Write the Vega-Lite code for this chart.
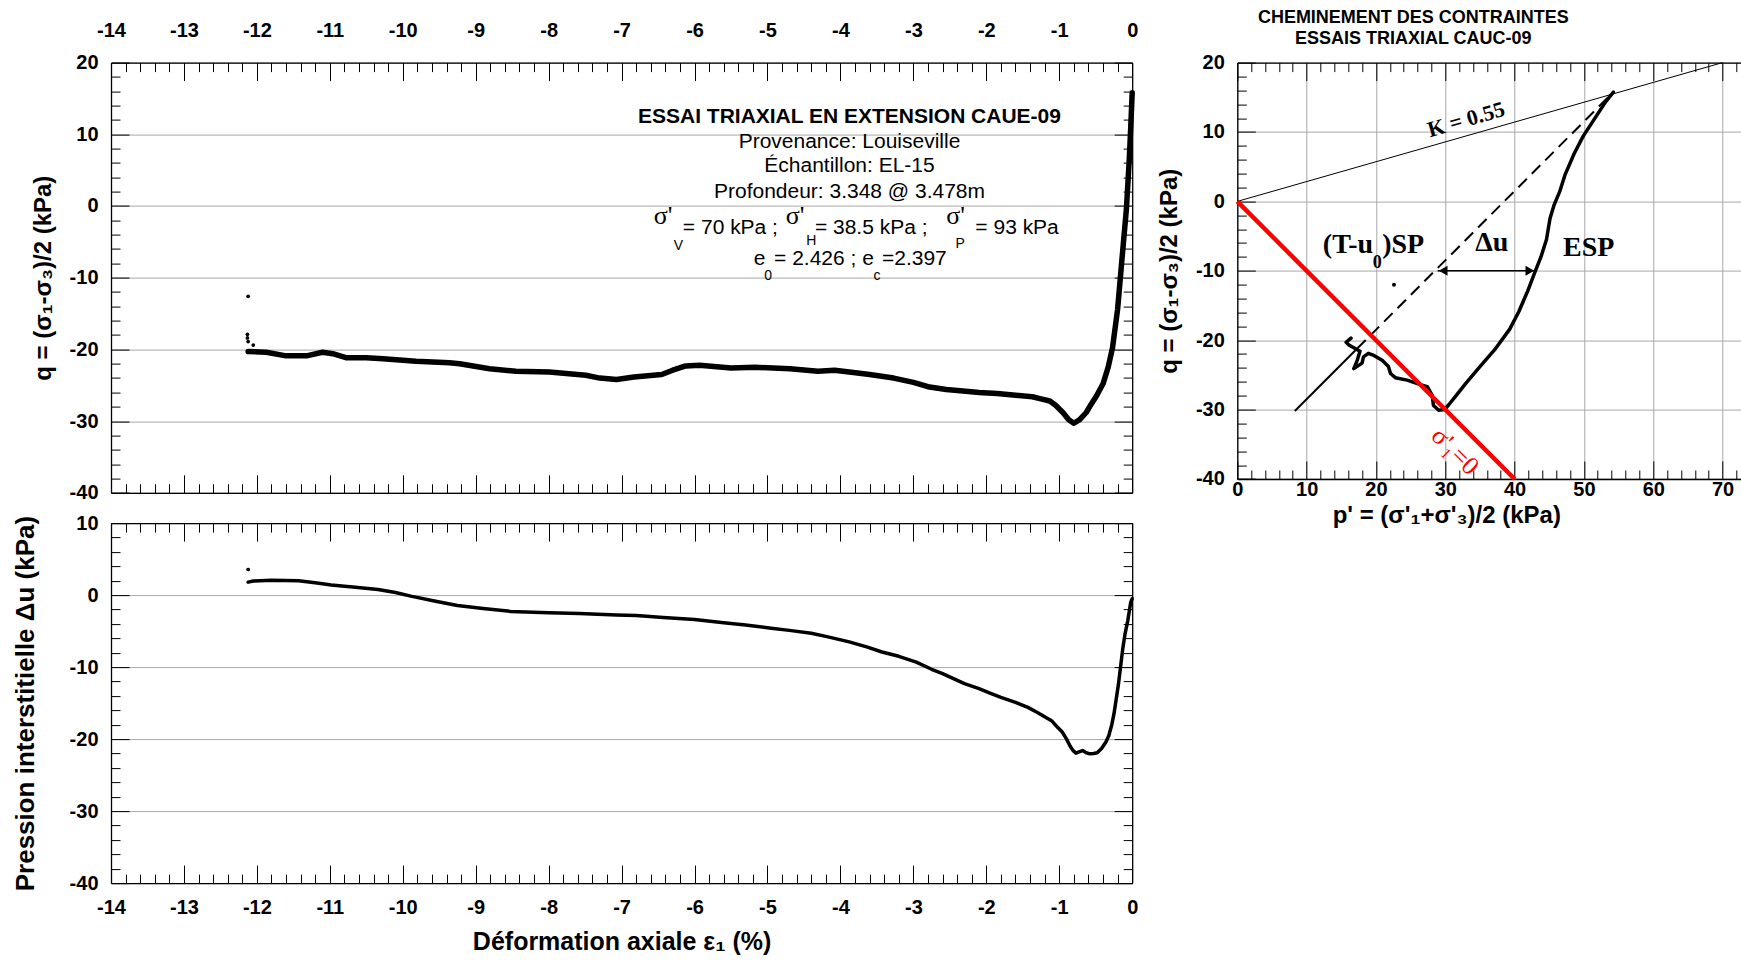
{
  "$schema": "https://vega.github.io/schema/vega-lite/v6.json",
  "background": "white",
  "padding": {"left": 12, "top": 8.6, "right": 0, "bottom": 0},
  "columns": 2,
  "align": "each",
  "bounds": "flush",
  "spacing": {"row": 29.5, "column": 104.3},
  "config": {
    "view": {"stroke": null},
    "axis": {
      "labelFont": "Liberation Sans", "labelFontSize": 20, "labelFontWeight": "bold", "labelColor": "black",
      "titleFont": "Liberation Sans", "titleFontWeight": "bold", "titleColor": "black",
      "tickColor": "black", "tickWidth": 1, "domainColor": "black", "domainWidth": 1.3,
      "gridColor": "#a8a8a8", "gridWidth": 1, "gridOpacity": 1,
      "labelFlush": false, "labelOverlap": false, "labelBound": false
    }
  },
  "datasets": {
    "tlq": [
      {"e": 0, "q": 15.8}, {"e": -0.02, "q": 11}, {"e": -0.04, "q": 6.5}, {"e": -0.08, "q": -0.5},
      {"e": -0.14, "q": -7.4}, {"e": -0.2, "q": -14.4}, {"e": -0.27, "q": -19.8}, {"e": -0.33, "q": -22.5},
      {"e": -0.4, "q": -24.8}, {"e": -0.49, "q": -26.5}, {"e": -0.56, "q": -27.6}, {"e": -0.63, "q": -28.8},
      {"e": -0.72, "q": -29.8}, {"e": -0.8, "q": -30.3}, {"e": -0.87, "q": -29.8}, {"e": -0.95, "q": -28.8},
      {"e": -1.05, "q": -27.8}, {"e": -1.13, "q": -27.2}, {"e": -1.25, "q": -26.9}, {"e": -1.37, "q": -26.6},
      {"e": -1.6, "q": -26.4}, {"e": -1.85, "q": -26.15}, {"e": -2.1, "q": -26.0}, {"e": -2.32, "q": -25.8},
      {"e": -2.55, "q": -25.6}, {"e": -2.8, "q": -25.2}, {"e": -3.0, "q": -24.6}, {"e": -3.27, "q": -24.0},
      {"e": -3.6, "q": -23.5}, {"e": -3.85, "q": -23.2}, {"e": -4.08, "q": -22.9}, {"e": -4.31, "q": -23.05},
      {"e": -4.69, "q": -22.7}, {"e": -5.17, "q": -22.5}, {"e": -5.5, "q": -22.6}, {"e": -5.93, "q": -22.2},
      {"e": -6.12, "q": -22.3}, {"e": -6.3, "q": -22.9}, {"e": -6.45, "q": -23.5}, {"e": -6.83, "q": -23.85},
      {"e": -7.07, "q": -24.2}, {"e": -7.3, "q": -24.0}, {"e": -7.49, "q": -23.6}, {"e": -7.99, "q": -23.15},
      {"e": -8.45, "q": -23.05}, {"e": -8.81, "q": -22.7}, {"e": -9.22, "q": -22.0}, {"e": -9.36, "q": -21.85},
      {"e": -9.82, "q": -21.65}, {"e": -10.27, "q": -21.3}, {"e": -10.5, "q": -21.15}, {"e": -10.78, "q": -21.15},
      {"e": -10.96, "q": -20.6}, {"e": -11.1, "q": -20.4}, {"e": -11.32, "q": -20.9}, {"e": -11.6, "q": -20.9},
      {"e": -11.87, "q": -20.4}, {"e": -12.12, "q": -20.3}
    ],
    "tlpts": [
      {"e": -12.12, "q": -12.6}, {"e": -12.13, "q": -17.9}, {"e": -12.13, "q": -18.4},
      {"e": -12.12, "q": -18.9}, {"e": -12.05, "q": -19.4}
    ],
    "tlhead": [{"e": -3.876, "q": 12.47, "t": "ESSAI TRIAXIAL EN EXTENSION CAUE-09"}],
    "tllines": [
      {"e": -3.876, "q": 8.93, "t": "Provenance: Louiseville"},
      {"e": -3.876, "q": 5.58, "t": "Échantillon: EL-15"},
      {"e": -3.876, "q": 1.95, "t": "Profondeur: 3.348 @ 3.478m"}
    ],
    "tleq": [
      {"e": -6.16, "q": -3.11, "t": "= 70 kPa ;"},
      {"e": -4.35, "q": -3.11, "t": "= 38.5 kPa ;"},
      {"e": -2.15, "q": -3.11, "t": "= 93 kPa"},
      {"e": -5.19, "q": -7.34, "t": "e"},
      {"e": -4.91, "q": -7.34, "t": "= 2.426 ; e"},
      {"e": -3.43, "q": -7.34, "t": "=2.397"}
    ],
    "tlsig": [
      {"e": -6.56, "q": -1.45, "t": "σ'"},
      {"e": -4.75, "q": -1.45, "t": "σ'"},
      {"e": -2.55, "q": -1.45, "t": "σ'"}
    ],
    "tlsub": [
      {"e": -6.22, "q": -5.6, "t": "V"},
      {"e": -4.40, "q": -4.9, "t": "H"},
      {"e": -2.36, "q": -5.3, "t": "P"},
      {"e": -4.99, "q": -9.76, "t": "0"},
      {"e": -3.50, "q": -9.76, "t": "c"}
    ],
    "blu": [
      {"e": 0, "u": -0.5}, {"e": -0.02, "u": -1.0}, {"e": -0.06, "u": -3.5}, {"e": -0.1, "u": -5.5},
      {"e": -0.13, "u": -7.5}, {"e": -0.16, "u": -10.0}, {"e": -0.19, "u": -12.5}, {"e": -0.22, "u": -14.5},
      {"e": -0.25, "u": -16.5}, {"e": -0.28, "u": -18.0}, {"e": -0.32, "u": -19.5}, {"e": -0.36, "u": -20.4},
      {"e": -0.42, "u": -21.3}, {"e": -0.48, "u": -21.9}, {"e": -0.53, "u": -22.0}, {"e": -0.58, "u": -22.05},
      {"e": -0.63, "u": -21.9}, {"e": -0.68, "u": -21.6}, {"e": -0.72, "u": -21.75}, {"e": -0.77, "u": -21.95},
      {"e": -0.81, "u": -21.6}, {"e": -0.85, "u": -21.0}, {"e": -0.9, "u": -20.0}, {"e": -0.96, "u": -19.0},
      {"e": -1.02, "u": -18.4}, {"e": -1.1, "u": -17.5}, {"e": -1.2, "u": -16.9}, {"e": -1.3, "u": -16.3},
      {"e": -1.43, "u": -15.6}, {"e": -1.6, "u": -14.9}, {"e": -1.8, "u": -14.2}, {"e": -1.95, "u": -13.6},
      {"e": -2.1, "u": -13.0}, {"e": -2.3, "u": -12.3}, {"e": -2.45, "u": -11.6}, {"e": -2.6, "u": -10.9},
      {"e": -2.75, "u": -10.3}, {"e": -2.96, "u": -9.3}, {"e": -3.2, "u": -8.5}, {"e": -3.43, "u": -7.9},
      {"e": -3.64, "u": -7.2}, {"e": -3.88, "u": -6.5}, {"e": -4.17, "u": -5.8}, {"e": -4.4, "u": -5.3},
      {"e": -4.7, "u": -4.9}, {"e": -4.95, "u": -4.6}, {"e": -5.3, "u": -4.15}, {"e": -5.6, "u": -3.85},
      {"e": -6.0, "u": -3.4}, {"e": -6.43, "u": -3.1}, {"e": -6.8, "u": -2.85}, {"e": -7.07, "u": -2.75},
      {"e": -7.58, "u": -2.56}, {"e": -8.0, "u": -2.45}, {"e": -8.52, "u": -2.27}, {"e": -8.9, "u": -1.85},
      {"e": -9.25, "u": -1.44}, {"e": -9.55, "u": -0.85}, {"e": -9.89, "u": -0.14}, {"e": -10.1, "u": 0.35},
      {"e": -10.34, "u": 0.78}, {"e": -10.65, "u": 1.1}, {"e": -10.98, "u": 1.4}, {"e": -11.2, "u": 1.7},
      {"e": -11.43, "u": 2.0}, {"e": -11.8, "u": 2.05}, {"e": -12.05, "u": 1.95}, {"e": -12.12, "u": 1.8}
    ],
    "blpts": [{"e": -12.12, "u": 3.56}],
    "esp": [
      {"i": 1, "p": 54.25, "q": 15.75}, {"i": 2, "p": 53.1, "q": 14.3}, {"i": 3, "p": 51.5, "q": 11.85},
      {"i": 4, "p": 49.9, "q": 9.4}, {"i": 5, "p": 48.6, "q": 6.9}, {"i": 6, "p": 47.3, "q": 3.9},
      {"i": 7, "p": 46.5, "q": 1.4}, {"i": 8, "p": 45.7, "q": -0.5}, {"i": 9, "p": 45.1, "q": -2.5},
      {"i": 10, "p": 44.6, "q": -5.5}, {"i": 11, "p": 43.8, "q": -8.0}, {"i": 12, "p": 43.0, "q": -10.0},
      {"i": 13, "p": 41.9, "q": -12.9}, {"i": 14, "p": 40.6, "q": -15.9}, {"i": 15, "p": 39.3, "q": -18.4},
      {"i": 16, "p": 37.1, "q": -21.4}, {"i": 17, "p": 35.0, "q": -23.8}, {"i": 18, "p": 32.9, "q": -26.3},
      {"i": 19, "p": 31.3, "q": -28.3}, {"i": 20, "p": 30.5, "q": -29.3}, {"i": 21, "p": 29.9, "q": -30.0},
      {"i": 22, "p": 29.05, "q": -30.1}, {"i": 23, "p": 28.3, "q": -29.4}, {"i": 24, "p": 28.1, "q": -27.9},
      {"i": 25, "p": 27.4, "q": -26.7}, {"i": 26, "p": 26.4, "q": -26.4}, {"i": 27, "p": 24.5, "q": -25.75},
      {"i": 28, "p": 22.8, "q": -25.4}, {"i": 29, "p": 22.1, "q": -24.8}, {"i": 30, "p": 21.8, "q": -23.8},
      {"i": 31, "p": 20.9, "q": -22.9}, {"i": 32, "p": 19.7, "q": -22.2}, {"i": 33, "p": 18.9, "q": -21.9},
      {"i": 34, "p": 18.2, "q": -22.4}, {"i": 35, "p": 18.0, "q": -23.3}, {"i": 36, "p": 16.8, "q": -24.1},
      {"i": 37, "p": 17.3, "q": -22.9}, {"i": 38, "p": 17.7, "q": -21.6}, {"i": 39, "p": 17.0, "q": -21.2},
      {"i": 40, "p": 16.1, "q": -20.7}, {"i": 41, "p": 15.7, "q": -20.3}, {"i": 42, "p": 16.4, "q": -19.7}
    ],
    "kline": [{"p": 0, "q": 0}, {"p": 70, "q": 20}],
    "redline": [{"p": 0, "q": 0}, {"p": 40, "q": -40}],
    "tspsolid": [{"p": 8.3, "q": -30.2}, {"p": 17.3, "q": -21.2}],
    "tspdash": [{"p": 17.3, "q": -21.2}, {"p": 54.25, "q": 15.75}],
    "arrow": [{"p": 28.9, "q": -10}, {"p": 43.0, "q": -10}],
    "headl": [{"p": 29.7, "q": -10}],
    "headr": [{"p": 42.2, "q": -10}],
    "stray": [{"p": 22.6, "q": -12.0}],
    "rk": [{"p": 33.0, "q": 11.8, "t": "K = 0.55"}],
    "rbr": [{"p": 19.6, "q": -7.4, "t": "(T-u"}],
    "rbl": [{"p": 20.9, "q": -7.4, "t": ")SP"}],
    "rbc": [{"p": 36.7, "q": -7.15, "t": "Δu"}, {"p": 50.7, "q": -7.9, "t": "ESP"}],
    "rsub": [{"p": 20.2, "q": -8.9, "t": "0"}],
    "rred": [{"p": 31.4, "q": -36.0, "t": "σ'₁=0"}]
  },
  "concat": [
    {
      "width": 1021.2,
      "height": 430.2,
      "resolve": {"axis": {"x": "independent", "y": "independent"}},
      "layer": [
        {
          "data": {"name": "tlq"},
          "mark": {"type": "line", "color": "black", "strokeWidth": 5.5, "strokeJoin": "round", "strokeCap": "round"},
          "encoding": {
            "x": {"field": "e", "type": "quantitative", "scale": {"domain": [-14, 0], "nice": false, "zero": false},
              "axis": {"orient": "top", "values": [-14,-13,-12,-11,-10,-9,-8,-7,-6,-5,-4,-3,-2,-1,0], "labelExpr": "replace(datum.label, '−', '-')", "ticks": false, "domain": false, "grid": false, "labelPadding": 22, "title": null}},
            "y": {"field": "q", "type": "quantitative", "scale": {"domain": [-40, 20], "nice": false, "zero": false},
              "axis": {"orient": "left", "values": [-40,-30,-20,-10,0,10,20], "labelExpr": "replace(datum.label, '−', '-')", "ticks": false, "domain": false, "grid": true, "labelPadding": 13, "title": "q = (σ₁-σ₃)/2 (kPa)", "titleFontSize": 24, "titlePadding": 13.5}}
          }
        },
        {
          "data": {"name": "tlpts"},
          "mark": {"type": "circle", "color": "black", "size": 14, "opacity": 1},
          "encoding": {
            "x": {"field": "e", "type": "quantitative",
              "axis": {"orient": "top", "values": [-14,-13.8,-13.6,-13.4,-13.2,-13,-12.8,-12.6,-12.4,-12.2,-12,-11.8,-11.6,-11.4,-11.2,-11,-10.8,-10.6,-10.4,-10.2,-10,-9.8,-9.6,-9.4,-9.2,-9,-8.8,-8.6,-8.4,-8.2,-8,-7.8,-7.6,-7.4,-7.2,-7,-6.8,-6.6,-6.4,-6.2,-6,-5.8,-5.6,-5.4,-5.2,-5,-4.8,-4.6,-4.4,-4.2,-4,-3.8,-3.6,-3.4,-3.2,-3,-2.8,-2.6,-2.4,-2.2,-2,-1.8,-1.6,-1.4,-1.2,-1,-0.8,-0.6,-0.4,-0.2,0], "labels": false, "ticks": true, "domain": true, "grid": false, "title": null,
                "tickSize": {"condition": {"test": "abs(datum.value % 1) < 0.001", "value": -18}, "value": -9}}},
            "y": {"field": "q", "type": "quantitative",
              "axis": {"orient": "left", "values": [-40,-38,-36,-34,-32,-30,-28,-26,-24,-22,-20,-18,-16,-14,-12,-10,-8,-6,-4,-2,0,2,4,6,8,10,12,14,16,18,20], "labels": false, "ticks": true, "domain": true, "grid": false, "title": null,
                "tickSize": {"condition": {"test": "datum.value % 10 === 0", "value": -18}, "value": -9}}}
          }
        },
        {
          "data": {"name": "tlhead"},
          "mark": {"type": "text", "font": "Liberation Sans", "fontSize": 21, "fontWeight": "bold", "align": "center", "baseline": "middle", "color": "black"},
          "encoding": {
            "x": {"field": "e", "type": "quantitative",
              "axis": {"orient": "bottom", "values": [-14,-13.8,-13.6,-13.4,-13.2,-13,-12.8,-12.6,-12.4,-12.2,-12,-11.8,-11.6,-11.4,-11.2,-11,-10.8,-10.6,-10.4,-10.2,-10,-9.8,-9.6,-9.4,-9.2,-9,-8.8,-8.6,-8.4,-8.2,-8,-7.8,-7.6,-7.4,-7.2,-7,-6.8,-6.6,-6.4,-6.2,-6,-5.8,-5.6,-5.4,-5.2,-5,-4.8,-4.6,-4.4,-4.2,-4,-3.8,-3.6,-3.4,-3.2,-3,-2.8,-2.6,-2.4,-2.2,-2,-1.8,-1.6,-1.4,-1.2,-1,-0.8,-0.6,-0.4,-0.2,0], "labels": false, "ticks": true, "domain": true, "grid": false, "title": null,
                "tickSize": {"condition": {"test": "abs(datum.value % 1) < 0.001", "value": -18}, "value": -9}}},
            "y": {"field": "q", "type": "quantitative",
              "axis": {"orient": "right", "values": [-40,-38,-36,-34,-32,-30,-28,-26,-24,-22,-20,-18,-16,-14,-12,-10,-8,-6,-4,-2,0,2,4,6,8,10,12,14,16,18,20], "labels": false, "ticks": true, "domain": true, "grid": false, "title": null,
                "tickSize": {"condition": {"test": "datum.value % 10 === 0", "value": -18}, "value": -9}}},
            "text": {"field": "t"}
          }
        },
        {
          "data": {"name": "tllines"},
          "mark": {"type": "text", "font": "Liberation Sans", "fontSize": 21, "align": "center", "baseline": "middle", "color": "black"},
          "encoding": {
            "x": {"field": "e", "type": "quantitative", "axis": null},
            "y": {"field": "q", "type": "quantitative", "axis": null},
            "text": {"field": "t"}
          }
        },
        {
          "data": {"name": "tleq"},
          "mark": {"type": "text", "font": "Liberation Sans", "fontSize": 21, "align": "left", "baseline": "middle", "color": "black"},
          "encoding": {
            "x": {"field": "e", "type": "quantitative", "axis": null},
            "y": {"field": "q", "type": "quantitative", "axis": null},
            "text": {"field": "t"}
          }
        },
        {
          "data": {"name": "tlsig"},
          "mark": {"type": "text", "font": "Liberation Serif", "fontSize": 26, "align": "left", "baseline": "middle", "color": "black"},
          "encoding": {
            "x": {"field": "e", "type": "quantitative", "axis": null},
            "y": {"field": "q", "type": "quantitative", "axis": null},
            "text": {"field": "t"}
          }
        },
        {
          "data": {"name": "tlsub"},
          "mark": {"type": "text", "font": "Liberation Sans", "fontSize": 14, "align": "center", "baseline": "middle", "color": "black"},
          "encoding": {
            "x": {"field": "e", "type": "quantitative", "axis": null},
            "y": {"field": "q", "type": "quantitative", "axis": null},
            "text": {"field": "t"}
          }
        }
      ]
    },
    {
      "width": 504,
      "height": 416.4,
      "title": {"text": ["CHEMINEMENT DES CONTRAINTES", "ESSAIS TRIAXIAL CAUC-09"], "font": "Liberation Sans", "fontSize": 18, "fontWeight": "bold", "color": "black", "anchor": "middle", "dx": -76, "offset": 4.5, "lineHeight": 21.5},
      "resolve": {"axis": {"x": "independent", "y": "independent"}},
      "layer": [
        {
          "data": {"name": "esp"},
          "mark": {"type": "line", "color": "black", "strokeWidth": 3.5, "strokeJoin": "round", "strokeCap": "round"},
          "encoding": {
            "x": {"field": "p", "type": "quantitative", "scale": {"domain": [0, 72.7], "nice": false, "zero": false},
              "axis": {"orient": "bottom", "values": [0,10,20,30,40,50,60,70], "ticks": false, "domain": false, "grid": true, "labelPadding": 1, "title": "p' = (σ'₁+σ'₃)/2 (kPa)", "titleFontSize": 24, "titlePadding": 4, "titleX": 209, "titleAlign": "center"}},
            "y": {"field": "q", "type": "quantitative", "scale": {"domain": [-40, 20], "nice": false, "zero": false},
              "axis": {"orient": "left", "values": [-40,-30,-20,-10,0,10,20], "labelExpr": "replace(datum.label, '−', '-')", "ticks": false, "domain": false, "grid": true, "labelPadding": 13, "title": "q = (σ₁-σ₃)/2 (kPa)", "titleFontSize": 24, "titlePadding": 14}},
            "order": {"field": "i", "type": "quantitative"}
          }
        },
        {
          "data": {"name": "kline"},
          "mark": {"type": "line", "color": "black", "strokeWidth": 1},
          "encoding": {
            "x": {"field": "p", "type": "quantitative",
              "axis": {"orient": "top", "values": [0,2,4,6,8,10,12,14,16,18,20,22,24,26,28,30,32,34,36,38,40,42,44,46,48,50,52,54,56,58,60,62,64,66,68,70,72], "labels": false, "ticks": true, "domain": true, "grid": false, "title": null,
                "tickSize": {"condition": {"test": "datum.value % 10 === 0", "value": -18}, "value": -9}}},
            "y": {"field": "q", "type": "quantitative",
              "axis": {"orient": "left", "values": [-40,-38,-36,-34,-32,-30,-28,-26,-24,-22,-20,-18,-16,-14,-12,-10,-8,-6,-4,-2,0,2,4,6,8,10,12,14,16,18,20], "labels": false, "ticks": true, "domain": true, "grid": false, "title": null,
                "tickSize": {"condition": {"test": "datum.value % 10 === 0", "value": -18}, "value": -9}}}
          }
        },
        {
          "data": {"name": "tspsolid"},
          "mark": {"type": "line", "color": "black", "strokeWidth": 2},
          "encoding": {
            "x": {"field": "p", "type": "quantitative",
              "axis": {"orient": "bottom", "values": [0,2,4,6,8,10,12,14,16,18,20,22,24,26,28,30,32,34,36,38,40,42,44,46,48,50,52,54,56,58,60,62,64,66,68,70,72], "labels": false, "ticks": true, "domain": true, "grid": false, "title": null,
                "tickSize": {"condition": {"test": "datum.value % 10 === 0", "value": -18}, "value": -9}}},
            "y": {"field": "q", "type": "quantitative", "axis": null}
          }
        },
        {
          "data": {"name": "tspdash"},
          "mark": {"type": "line", "color": "black", "strokeWidth": 2, "strokeDash": [12, 7]},
          "encoding": {
            "x": {"field": "p", "type": "quantitative", "axis": null},
            "y": {"field": "q", "type": "quantitative", "axis": null}
          }
        },
        {
          "data": {"name": "redline"},
          "mark": {"type": "line", "color": "#ff0000", "strokeWidth": 4.5},
          "encoding": {
            "x": {"field": "p", "type": "quantitative", "axis": null},
            "y": {"field": "q", "type": "quantitative", "axis": null}
          }
        },
        {
          "data": {"name": "arrow"},
          "mark": {"type": "line", "color": "black", "strokeWidth": 1.5},
          "encoding": {
            "x": {"field": "p", "type": "quantitative", "axis": null},
            "y": {"field": "q", "type": "quantitative", "axis": null}
          }
        },
        {
          "data": {"name": "headl"},
          "mark": {"type": "point", "shape": "triangle-left", "filled": true, "size": 100, "color": "black", "opacity": 1},
          "encoding": {
            "x": {"field": "p", "type": "quantitative", "axis": null},
            "y": {"field": "q", "type": "quantitative", "axis": null}
          }
        },
        {
          "data": {"name": "headr"},
          "mark": {"type": "point", "shape": "triangle-right", "filled": true, "size": 100, "color": "black", "opacity": 1},
          "encoding": {
            "x": {"field": "p", "type": "quantitative", "axis": null},
            "y": {"field": "q", "type": "quantitative", "axis": null}
          }
        },
        {
          "data": {"name": "stray"},
          "mark": {"type": "circle", "size": 16, "color": "black", "opacity": 1},
          "encoding": {
            "x": {"field": "p", "type": "quantitative", "axis": null},
            "y": {"field": "q", "type": "quantitative", "axis": null}
          }
        },
        {
          "data": {"name": "rk"},
          "mark": {"type": "text", "font": "Liberation Serif", "fontSize": 22, "fontWeight": "bold", "align": "center", "baseline": "middle", "angle": -16, "color": "black"},
          "encoding": {
            "x": {"field": "p", "type": "quantitative", "axis": null},
            "y": {"field": "q", "type": "quantitative", "axis": null},
            "text": {"field": "t"}
          }
        },
        {
          "data": {"name": "rbr"},
          "mark": {"type": "text", "font": "Liberation Serif", "fontSize": 28, "fontWeight": "bold", "align": "right", "baseline": "alphabetic", "color": "black"},
          "encoding": {
            "x": {"field": "p", "type": "quantitative", "axis": null},
            "y": {"field": "q", "type": "quantitative", "axis": null},
            "text": {"field": "t"}
          }
        },
        {
          "data": {"name": "rbl"},
          "mark": {"type": "text", "font": "Liberation Serif", "fontSize": 28, "fontWeight": "bold", "align": "left", "baseline": "alphabetic", "color": "black"},
          "encoding": {
            "x": {"field": "p", "type": "quantitative", "axis": null},
            "y": {"field": "q", "type": "quantitative", "axis": null},
            "text": {"field": "t"}
          }
        },
        {
          "data": {"name": "rbc"},
          "mark": {"type": "text", "font": "Liberation Serif", "fontSize": 28, "fontWeight": "bold", "align": "center", "baseline": "alphabetic", "color": "black"},
          "encoding": {
            "x": {"field": "p", "type": "quantitative", "axis": null},
            "y": {"field": "q", "type": "quantitative", "axis": null},
            "text": {"field": "t"}
          }
        },
        {
          "data": {"name": "rsub"},
          "mark": {"type": "text", "font": "Liberation Serif", "fontSize": 18, "fontWeight": "bold", "align": "center", "baseline": "middle", "color": "black"},
          "encoding": {
            "x": {"field": "p", "type": "quantitative", "axis": null},
            "y": {"field": "q", "type": "quantitative", "axis": null},
            "text": {"field": "t"}
          }
        },
        {
          "data": {"name": "rred"},
          "mark": {"type": "text", "font": "Liberation Serif", "fontSize": 26, "align": "center", "baseline": "middle", "angle": 45, "color": "#ff0000"},
          "encoding": {
            "x": {"field": "p", "type": "quantitative", "axis": null},
            "y": {"field": "q", "type": "quantitative", "axis": null},
            "text": {"field": "t"}
          }
        }
      ]
    },
    {
      "width": 1021.2,
      "height": 360,
      "resolve": {"axis": {"x": "independent", "y": "independent"}},
      "layer": [
        {
          "data": {"name": "blu"},
          "mark": {"type": "line", "color": "black", "strokeWidth": 3.5, "strokeJoin": "round", "strokeCap": "round"},
          "encoding": {
            "x": {"field": "e", "type": "quantitative", "scale": {"domain": [-14, 0], "nice": false, "zero": false},
              "axis": {"orient": "bottom", "values": [-14,-13,-12,-11,-10,-9,-8,-7,-6,-5,-4,-3,-2,-1,0], "labelExpr": "replace(datum.label, '−', '-')", "ticks": false, "domain": false, "grid": false, "labelPadding": 14, "title": "Déformation axiale ε₁ (%)", "titleFontSize": 25, "titlePadding": 12}},
            "y": {"field": "u", "type": "quantitative", "scale": {"domain": [-40, 10], "nice": false, "zero": false},
              "axis": {"orient": "left", "values": [-40,-30,-20,-10,0,10], "labelExpr": "replace(datum.label, '−', '-')", "ticks": false, "domain": false, "grid": true, "labelPadding": 13, "title": "Pression interstitielle Δu (kPa)", "titleFontSize": 26, "titlePadding": 31}}
          }
        },
        {
          "data": {"name": "blpts"},
          "mark": {"type": "circle", "color": "black", "size": 12, "opacity": 1},
          "encoding": {
            "x": {"field": "e", "type": "quantitative",
              "axis": {"orient": "top", "values": [-14,-13.8,-13.6,-13.4,-13.2,-13,-12.8,-12.6,-12.4,-12.2,-12,-11.8,-11.6,-11.4,-11.2,-11,-10.8,-10.6,-10.4,-10.2,-10,-9.8,-9.6,-9.4,-9.2,-9,-8.8,-8.6,-8.4,-8.2,-8,-7.8,-7.6,-7.4,-7.2,-7,-6.8,-6.6,-6.4,-6.2,-6,-5.8,-5.6,-5.4,-5.2,-5,-4.8,-4.6,-4.4,-4.2,-4,-3.8,-3.6,-3.4,-3.2,-3,-2.8,-2.6,-2.4,-2.2,-2,-1.8,-1.6,-1.4,-1.2,-1,-0.8,-0.6,-0.4,-0.2,0], "labels": false, "ticks": true, "domain": true, "grid": false, "title": null,
                "tickSize": {"condition": {"test": "abs(datum.value % 1) < 0.001", "value": -18}, "value": -9}}},
            "y": {"field": "u", "type": "quantitative",
              "axis": {"orient": "left", "values": [-40,-38,-36,-34,-32,-30,-28,-26,-24,-22,-20,-18,-16,-14,-12,-10,-8,-6,-4,-2,0,2,4,6,8,10], "labels": false, "ticks": true, "domain": true, "grid": false, "title": null,
                "tickSize": {"condition": {"test": "datum.value % 10 === 0", "value": -18}, "value": -9}}}
          }
        },
        {
          "data": {"name": "blpts"},
          "mark": {"type": "circle", "color": "black", "size": 12, "opacity": 1},
          "encoding": {
            "x": {"field": "e", "type": "quantitative",
              "axis": {"orient": "bottom", "values": [-14,-13.8,-13.6,-13.4,-13.2,-13,-12.8,-12.6,-12.4,-12.2,-12,-11.8,-11.6,-11.4,-11.2,-11,-10.8,-10.6,-10.4,-10.2,-10,-9.8,-9.6,-9.4,-9.2,-9,-8.8,-8.6,-8.4,-8.2,-8,-7.8,-7.6,-7.4,-7.2,-7,-6.8,-6.6,-6.4,-6.2,-6,-5.8,-5.6,-5.4,-5.2,-5,-4.8,-4.6,-4.4,-4.2,-4,-3.8,-3.6,-3.4,-3.2,-3,-2.8,-2.6,-2.4,-2.2,-2,-1.8,-1.6,-1.4,-1.2,-1,-0.8,-0.6,-0.4,-0.2,0], "labels": false, "ticks": true, "domain": true, "grid": false, "title": null,
                "tickSize": {"condition": {"test": "abs(datum.value % 1) < 0.001", "value": -18}, "value": -9}}},
            "y": {"field": "u", "type": "quantitative",
              "axis": {"orient": "right", "values": [-40,-38,-36,-34,-32,-30,-28,-26,-24,-22,-20,-18,-16,-14,-12,-10,-8,-6,-4,-2,0,2,4,6,8,10], "labels": false, "ticks": true, "domain": true, "grid": false, "title": null,
                "tickSize": {"condition": {"test": "datum.value % 10 === 0", "value": -18}, "value": -9}}}
          }
        }
      ]
    }
  ]
}
